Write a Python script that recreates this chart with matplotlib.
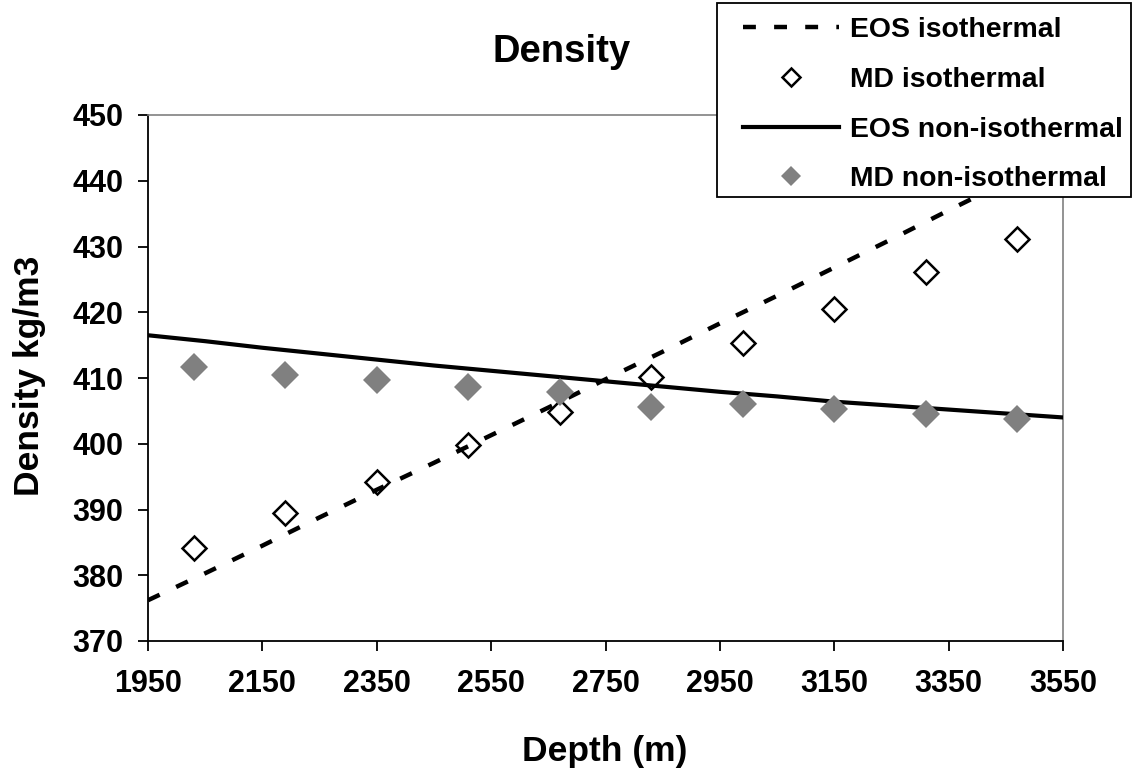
import matplotlib
matplotlib.use("Agg")
import matplotlib.pyplot as plt
from matplotlib.patches import Rectangle

plt.rcParams['font.family'] = ['Liberation Sans', 'DejaVu Sans']
plt.rcParams['font.weight'] = 'bold'

# ---- data ----
eos_depth = [1950, 2050, 2150, 2250, 2350, 2450, 2550, 2650, 2750, 2850,
             2950, 3050, 3150, 3250, 3350, 3450, 3550]
eos_iso = [376.2, 380.3, 384.5, 388.8, 393.0, 397.1, 401.3, 405.5, 409.8, 414.0,
           418.3, 422.5, 426.8, 431.1, 435.5, 439.8, 444.0]
eos_noniso = [416.5, 415.6, 414.6, 413.7, 412.8, 411.9, 411.1, 410.3, 409.5, 408.7,
              407.9, 407.2, 406.4, 405.8, 405.2, 404.6, 404.0]

md_depth = [2030, 2190, 2350, 2510, 2670, 2830, 2990, 3150, 3310, 3470]
md_iso = [384.1, 389.4, 394.2, 399.8, 404.9, 410.1, 415.3, 420.5, 426.1, 431.2]
md_noniso = [411.6, 410.4, 409.7, 408.6, 407.9, 405.6, 406.0, 405.3, 404.5, 403.8]

x_ticks = [1950, 2150, 2350, 2550, 2750, 2950, 3150, 3350, 3550]
y_ticks = [370, 380, 390, 400, 410, 420, 430, 440, 450]

labels = ["EOS isothermal", "MD isothermal", "EOS non-isothermal", "MD non-isothermal"]
title = "Density"
xlabel = "Depth (m)"
ylabel = "Density kg/m3"

GREY = "#808080"
W, H = 1132, 770

fig = plt.figure(figsize=(W/100, H/100), dpi=100)
ax = fig.add_axes([148/W, 1-641/H, (1063-148)/W, (641-115)/H])

l1, = ax.plot(eos_depth, eos_iso, color='black', lw=3.2, dashes=(2.9, 4.1),
              dash_capstyle='butt', zorder=2)
l2, = ax.plot(md_depth, md_iso, linestyle='none', marker='D', markersize=12.5,
              markerfacecolor='none', markeredgecolor='black', markeredgewidth=1.8, zorder=3)
l3, = ax.plot(eos_depth, eos_noniso, color='black', lw=3.0, zorder=4)
l4, = ax.plot(md_depth, md_noniso, linestyle='none', marker='D', markersize=14.5,
              markerfacecolor=GREY, markeredgecolor=GREY, markeredgewidth=0, zorder=5)

ax.set_xlim(1950, 3550)
ax.set_ylim(370, 450)
ax.set_xticks(x_ticks)
ax.set_xticklabels([str(v) for v in x_ticks])
ax.set_yticks(y_ticks)
ax.set_yticklabels([str(v) for v in y_ticks])

for s in ['left', 'bottom']:
    ax.spines[s].set_color('black')
    ax.spines[s].set_linewidth(1.3)
for s in ['top', 'right']:
    ax.spines[s].set_color(GREY)
    ax.spines[s].set_linewidth(1.2)

ax.tick_params(axis='both', direction='out', length=7.5, width=1.3, colors='black',
               labelsize=22)
ax.tick_params(axis='x', pad=13)
ax.tick_params(axis='y', pad=10.5)
for lab in ax.get_xticklabels() + ax.get_yticklabels():
    lab.set_fontweight('bold')

fig.text(29/W, 1-376/H, ylabel, rotation=90, ha='center', va='center',
         fontsize=25.5, fontweight='bold')
fig.text(605/W, 1-752/H, xlabel, ha='center', va='center',
         fontsize=25.5, fontweight='bold')
fig.text(562/W, 1-52/H, title, ha='center', va='center',
         fontsize=27.5, fontweight='bold')

# legend frame (drawn separately to match the reference box)
frame = Rectangle((717/W, 1-197/H), (1131-717)/W, (197-3)/H, transform=fig.transFigure,
                  facecolor='white', edgecolor='black', linewidth=1.3, zorder=9)
fig.add_artist(frame)

leg = fig.legend([l1, l2, l3, l4], labels, loc='upper left',
                 bbox_to_anchor=(743/W, 1-17/H), frameon=False,
                 fontsize=20.4, handlelength=3.4, handletextpad=0.38, labelspacing=0.84,
                 borderpad=0.0, borderaxespad=0.0, markerscale=0.72)
leg.set_zorder(10)
for t in leg.get_texts():
    t.set_fontweight('bold')

fig.savefig("out.png", dpi=100)
